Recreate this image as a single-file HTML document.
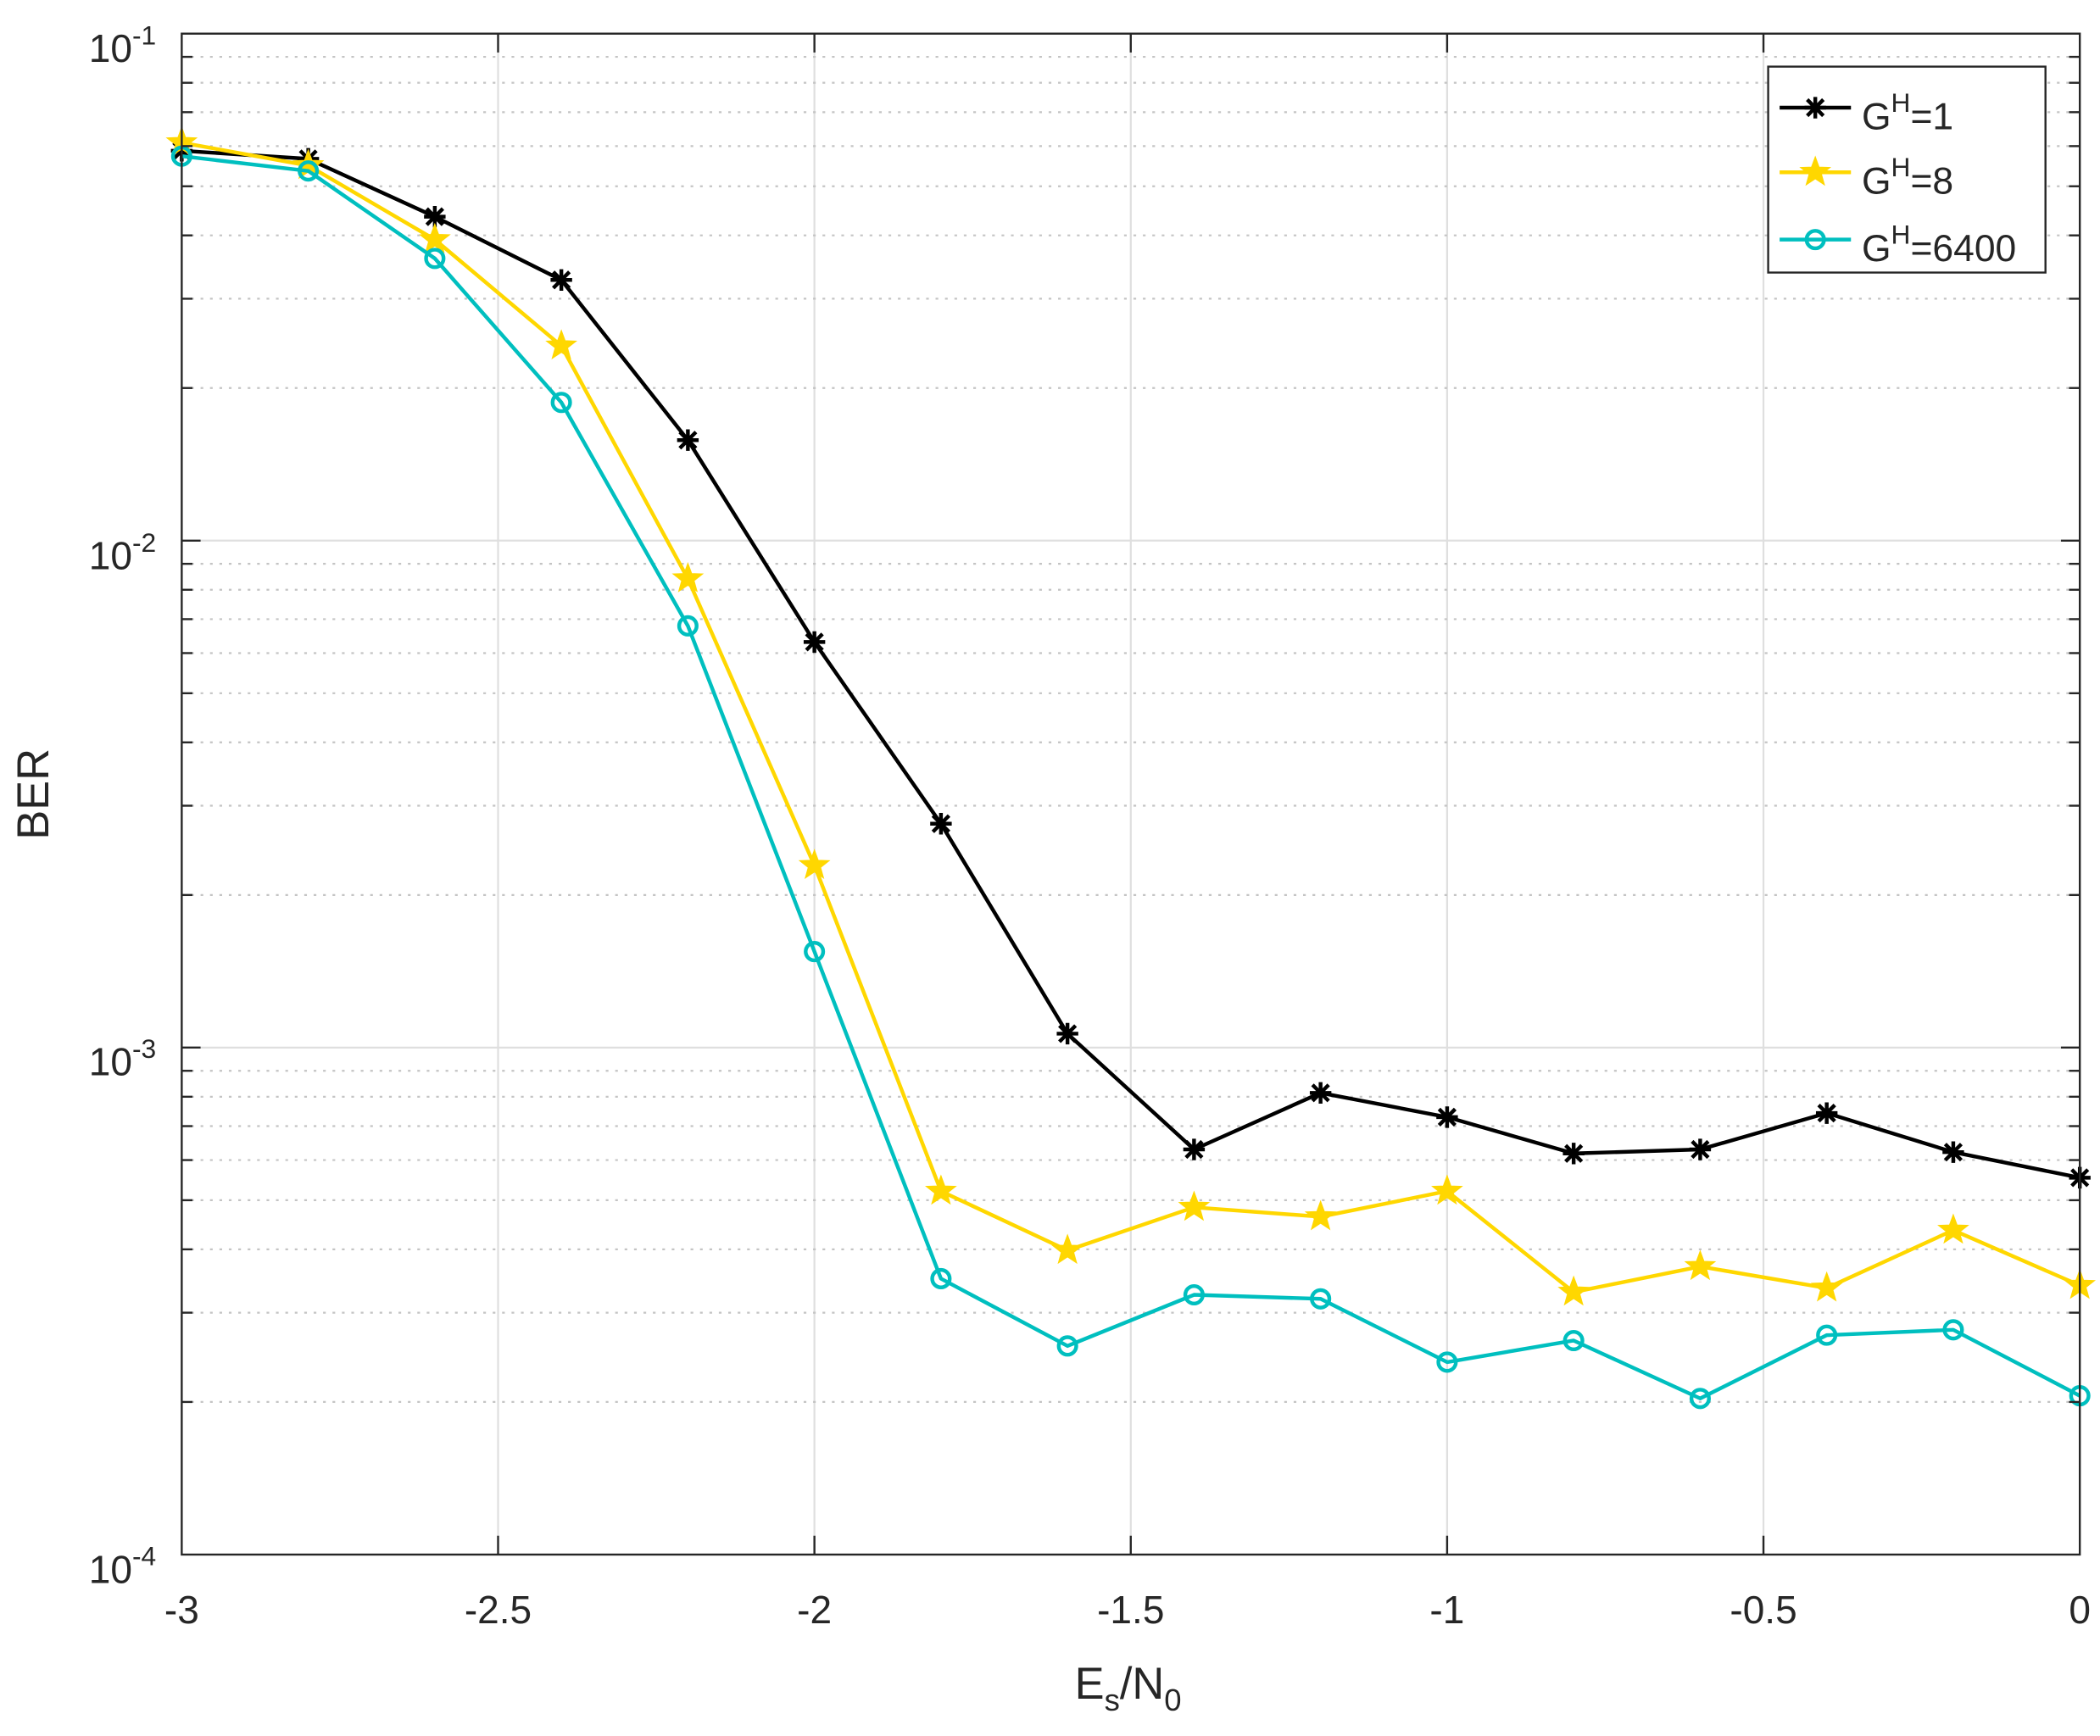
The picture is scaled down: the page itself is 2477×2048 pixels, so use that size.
<!DOCTYPE html>
<html><head><meta charset="utf-8"><style>
html,body{margin:0;padding:0;background:#fff;}
svg{display:block;}
text{font-family:"Liberation Sans",sans-serif;fill:#262626;}
</style></head><body>
<svg id="s" width="2477" height="2048" viewBox="0 0 1560 1289.8" preserveAspectRatio="none" xmlns="http://www.w3.org/2000/svg">
<rect x="0" y="0" width="1560" height="1290" fill="#fff"/>
<g id="grid"></g>
<g id="series"></g>
<rect x="135" y="25" width="1410" height="1130" fill="none" stroke="#262626" stroke-width="1.5"/>
<g id="ticks"></g>
<g font-size="29" text-anchor="middle">
<text x="135" y="1206">-3</text><text x="370" y="1206">-2.5</text><text x="605" y="1206">-2</text>
<text x="840" y="1206">-1.5</text><text x="1075" y="1206">-1</text><text x="1310" y="1206">-0.5</text><text x="1545" y="1206">0</text>
</g>
<g font-size="29" text-anchor="end">
<text x="116" y="46">10<tspan font-size="20" dy="-13">-1</tspan></text>
<text x="116" y="423">10<tspan font-size="20" dy="-13">-2</tspan></text>
<text x="116" y="799">10<tspan font-size="20" dy="-13">-3</tspan></text>
<text x="116" y="1176">10<tspan font-size="20" dy="-13">-4</tspan></text>
</g>
<text font-size="33" x="838" y="1262" text-anchor="middle">E<tspan font-size="23" dy="9">s</tspan><tspan dy="-9">/N</tspan><tspan font-size="23" dy="9">0</tspan></text>
<text font-size="33" transform="translate(36,590) rotate(-90)" text-anchor="middle">BER</text>
<rect x="1313.5" y="49.5" width="206" height="153" fill="#fff" stroke="#262626" stroke-width="1.5"/>
<g font-size="28">
<text x="1383" y="96">G<tspan font-size="20" dy="-13">H</tspan><tspan dy="13">=1</tspan></text>
<text x="1383" y="144">G<tspan font-size="20" dy="-13">H</tspan><tspan dy="13">=8</tspan></text>
<text x="1383" y="194">G<tspan font-size="20" dy="-13">H</tspan><tspan dy="13">=6400</tspan></text>
</g>
<g id="legend"></g>
</svg>
<script>
var NS="http://www.w3.org/2000/svg";
function el(p,t,a){var e=document.createElementNS(NS,t);for(var k in a)e.setAttribute(k,a[k]);document.getElementById(p).appendChild(e);return e;}
var L=135,R=1545,T=25,B=1155,D=(B-T)/3;
for(var x=L+235;x<R;x+=235)el("grid","line",{x1:x,x2:x,y1:T,y2:B,stroke:"#dfdfdf","stroke-width":1.4});
for(var d=0;d<3;d++){var base=B-d*D;
 if(d>0)el("grid","line",{x1:L,x2:R,y1:base,y2:base,stroke:"#dfdfdf","stroke-width":1.4});
 for(var m=2;m<=9;m++){var y=base-Math.log10(m)*D;
  el("grid","line",{x1:L,x2:R,y1:y,y2:y,stroke:"#c4c4c4","stroke-width":1.4,"stroke-dasharray":"2 5"});
  el("ticks","line",{x1:L,x2:L+8,y1:y,y2:y,stroke:"#262626","stroke-width":1.5});
  el("ticks","line",{x1:R,x2:R-8,y1:y,y2:y,stroke:"#262626","stroke-width":1.5});}
 }
for(var d=1;d<3;d++){var y=B-d*D;el("ticks","line",{x1:L,x2:L+14,y1:y,y2:y,stroke:"#262626","stroke-width":1.5});el("ticks","line",{x1:R,x2:R-14,y1:y,y2:y,stroke:"#262626","stroke-width":1.5});}
for(var x=L+235;x<R;x+=235){el("ticks","line",{x1:x,x2:x,y1:B,y2:B-14,stroke:"#262626","stroke-width":1.5});el("ticks","line",{x1:x,x2:x,y1:T,y2:T+14,stroke:"#262626","stroke-width":1.5});}
var S=[
 {c:"#000000",m:"ast",y:[112,118,161,208,327,477,612,768,854,812,830,857,854,827,856,875]},
 {c:"#FFD700",m:"star",y:[106,123,178,257,430,643,885,929,897,904,885,960,941,957,914,955]},
 {c:"#00BFBF",m:"circ",y:[116,127,192,299,465,707,950,1000,962,965,1012,996,1039,992,988,1037]}];
function marker(g,m,c,x,y){
 if(m=="ast"){var r=8;el(g,"path",{d:"M"+(x-r)+" "+y+"H"+(x+r)+"M"+x+" "+(y-r)+"V"+(y+r)+"M"+(x-6)+" "+(y-6)+"L"+(x+6)+" "+(y+6)+"M"+(x-6)+" "+(y+6)+"L"+(x+6)+" "+(y-6),stroke:c,"stroke-width":2.8,fill:"none"});}
 else if(m=="star"){var p=[];for(var i=0;i<10;i++){var a=-Math.PI/2+i*Math.PI/5,rr=i%2?4.6:11;p.push((x+rr*Math.cos(a)).toFixed(1)+","+(y+rr*Math.sin(a)).toFixed(1));}el(g,"polygon",{points:p.join(" "),fill:c,stroke:c,"stroke-width":1});}
 else el(g,"circle",{cx:x,cy:y,r:6.5,fill:"none",stroke:c,"stroke-width":2.8});
}
S.forEach(function(s){var pts=s.y.map(function(v,i){return (L+i*94)+","+v;}).join(" ");
 el("series","polyline",{points:pts,fill:"none",stroke:s.c,"stroke-width":2.8,"stroke-linejoin":"round"});
 s.y.forEach(function(v,i){marker("series",s.m,s.c,L+i*94,v);});});
var ly=[80,128,178];
S.forEach(function(s,i){el("legend","line",{x1:1322,x2:1375,y1:ly[i],y2:ly[i],stroke:s.c,"stroke-width":2.8});marker("legend",s.m,s.c,1348.5,ly[i]);});
</script>
</body></html>
